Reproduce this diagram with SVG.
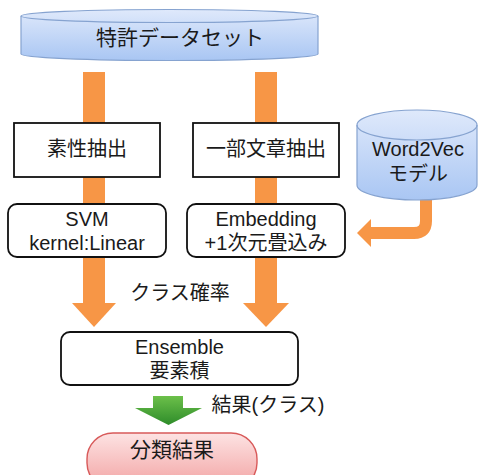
<svg xmlns="http://www.w3.org/2000/svg" width="478" height="475" viewBox="0 0 478 475">
<defs>
<linearGradient id="blue" x1="0" y1="0" x2="0" y2="1">
<stop offset="0" stop-color="#dfe9fb"/>
<stop offset="1" stop-color="#a9c6f3"/>
</linearGradient>
<linearGradient id="pink" x1="0" y1="0" x2="0" y2="1">
<stop offset="0" stop-color="#fde3e3"/>
<stop offset="1" stop-color="#f2a2a2"/>
</linearGradient>
<linearGradient id="green" x1="0" y1="0" x2="0" y2="1">
<stop offset="0" stop-color="#6cc04a"/>
<stop offset="1" stop-color="#2e8c2a"/>
</linearGradient>
<style>
.t{font-family:"Liberation Sans","Noto Sans CJK JP",sans-serif;font-size:20px;fill:#1a1a1a;text-anchor:middle}
.box{fill:#fff;stroke:#111;stroke-width:1.8}
.cyl{fill:url(#blue);stroke:#86a3d0;stroke-width:1.2}
.cylTop{fill:none;stroke:#86a3d0;stroke-width:1.2}
.or{fill:#f79646}
</style>
</defs>
<g id="connectors">
<rect class="or" x="83" y="72" width="22" height="232"/>
<polygon class="or" points="72,303 116,303 94,327"/>
<rect class="or" x="255" y="72" width="22" height="232"/>
<polygon class="or" points="243,303 289,303 266,327"/>
<path d="M426,198 V221 Q426,233 414,233 H368" fill="none" stroke="#f79646" stroke-width="12"/>
<polygon class="or" points="371,219 371,247 357,233"/>
<polygon fill="url(#green)" points="153,396 183,396 183,408 202,408 168.5,425 135,408 153,408"/>
<text class="t" x="180" y="300">クラス確率</text>
<text class="t" x="268" y="412">結果(クラス)</text>
</g>
<g id="dataset">
<path class="cyl" d="M21,16 A148.5,6.5 0 0 1 318,16 V54 A148.5,6.5 0 0 1 21,54 Z"/>
<path class="cylTop" d="M21,16 A148.5,6.5 0 0 0 318,16"/>
<text class="t" x="180" y="45" style="font-size:21px">特許データセット</text>
</g>
<g id="feature">
<rect class="box" x="14" y="123" width="146" height="54"/>
<text class="t" x="87" y="156">素性抽出</text>
</g>
<g id="partial">
<rect class="box" x="193" y="123" width="146" height="54"/>
<text class="t" x="266" y="156">一部文章抽出</text>
</g>
<g id="word2vec">
<path class="cyl" d="M357,125 A60,15 0 0 1 477,125 V185 A60,15 0 0 1 357,185 Z"/>
<path class="cylTop" d="M357,125 A60,15 0 0 0 477,125"/>
<text class="t" x="418" y="156">Word2Vec</text>
<text class="t" x="418" y="181">モデル</text>
</g>
<g id="svm">
<rect class="box" x="8" y="204" width="158" height="53" rx="9"/>
<text class="t" x="87" y="226">SVM</text>
<text class="t" x="87" y="250">kernel:Linear</text>
</g>
<g id="embedding">
<rect class="box" x="187" y="204" width="158" height="53" rx="9"/>
<text class="t" x="266" y="226">Embedding</text>
<text class="t" x="266" y="250">+1次元畳込み</text>
</g>
<g id="ensemble">
<rect class="box" x="61" y="332" width="237" height="53" rx="9"/>
<text class="t" x="179.5" y="354">Ensemble</text>
<text class="t" x="179.5" y="378">要素積</text>
</g>
<g id="result">
<rect x="87" y="433" width="170" height="56" rx="26" fill="url(#pink)" stroke="#d85a5a" stroke-width="1.4"/>
<text class="t" x="172" y="457" style="font-size:21px">分類結果</text>
</g>
</svg>
